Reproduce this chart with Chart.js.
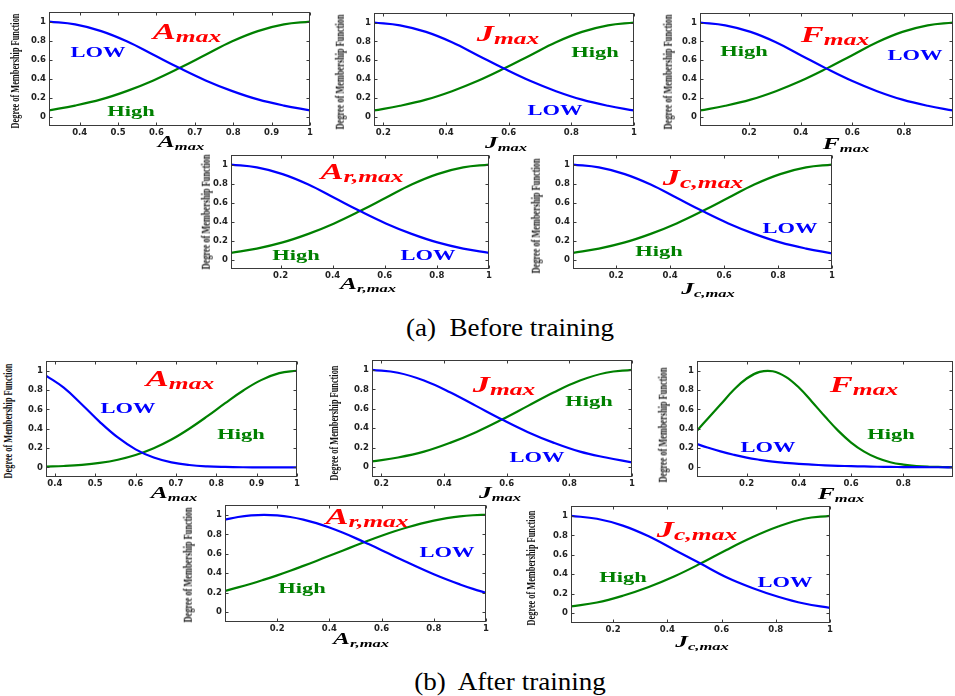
<!DOCTYPE html>
<html><head><meta charset="utf-8">
<script src="https://cdn.jsdelivr.net/npm/chart.js@4.4.1/dist/chart.umd.min.js"></script>
<style>
html,body{margin:0;padding:0;background:#fff;}
#page{position:relative;width:955px;height:696px;overflow:hidden;background:#fff;}
canvas{position:absolute;}
.t{position:absolute;white-space:nowrap;line-height:1;font-family:'Liberation Serif','Times New Roman',serif;transform:translate(-50%,-50%) scaleX(1.5);}
.t sub{line-height:0;}
.ttl{color:#ff0000;font-weight:bold;font-style:italic;font-size:23px;}
.ttl sub{font-size:17px;vertical-align:-3px;}
.low{color:#0000ff;font-weight:bold;font-size:15px;}
.high{color:#008000;font-weight:bold;font-size:15px;}
.xt{color:#000;font-weight:bold;font-style:italic;font-size:17px;}
.xt sub{font-size:11px;vertical-align:-3px;}
.yt{color:#111;font-weight:bold;font-size:8.3px;transform:translate(-50%,-50%) rotate(-90deg) scaleY(1.6);}
.cap{color:#000;font-size:26px;white-space:pre;transform:translate(-50%,-50%) scaleX(1.04);}
</style></head>
<body><div id="page"></div>
<script>
// ---- tick values ----
const yTicks = [0, 0.2, 0.4, 0.6, 0.8, 1];
const xTicksAmax = [0.4, 0.5, 0.6, 0.7, 0.8, 0.9, 1];
const xTicksJmax = [0.2, 0.4, 0.6, 0.8, 1];
const xTicksFmax = [0.2, 0.4, 0.6, 0.8];
const xTicksUnit = [0.2, 0.4, 0.6, 0.8, 1];

// ---- (a) before training ----
const aAmaxX    = [0.32, 0.388, 0.456, 0.524, 0.592, 0.66, 0.728, 0.796, 0.864, 0.932, 1.0];
const aAmaxLow  = [1.0, 0.97, 0.9, 0.79, 0.65, 0.51, 0.38, 0.27, 0.18, 0.115, 0.065];
const aAmaxHigh = [0.065, 0.115, 0.18, 0.27, 0.38, 0.51, 0.65, 0.79, 0.9, 0.97, 1.0];

const aJmaxX    = [0.17, 0.253, 0.336, 0.419, 0.502, 0.585, 0.668, 0.751, 0.834, 0.917, 1.0];
const aJmaxLow  = [1.0, 0.97, 0.9, 0.79, 0.65, 0.51, 0.38, 0.27, 0.18, 0.115, 0.065];
const aJmaxHigh = [0.065, 0.115, 0.18, 0.27, 0.38, 0.51, 0.65, 0.79, 0.9, 0.97, 1.0];

const aFmaxX    = [0.01, 0.108, 0.206, 0.304, 0.402, 0.5, 0.598, 0.696, 0.794, 0.892, 0.99];
const aFmaxLow  = [1.0, 0.97, 0.9, 0.79, 0.65, 0.51, 0.38, 0.27, 0.18, 0.115, 0.065];
const aFmaxHigh = [0.065, 0.115, 0.18, 0.27, 0.38, 0.51, 0.65, 0.79, 0.9, 0.97, 1.0];

const aArX    = [0.01, 0.109, 0.208, 0.307, 0.406, 0.505, 0.604, 0.703, 0.802, 0.901, 1.0];
const aArLow  = [1.0, 0.97, 0.9, 0.79, 0.65, 0.51, 0.38, 0.27, 0.18, 0.115, 0.07];
const aArHigh = [0.07, 0.115, 0.18, 0.27, 0.38, 0.51, 0.65, 0.79, 0.9, 0.97, 1.0];

const aJcX    = [0.04, 0.136, 0.232, 0.328, 0.424, 0.52, 0.616, 0.712, 0.808, 0.904, 1.0];
const aJcLow  = [1.0, 0.97, 0.9, 0.79, 0.65, 0.51, 0.38, 0.27, 0.18, 0.115, 0.065];
const aJcHigh = [0.07, 0.115, 0.18, 0.27, 0.38, 0.51, 0.65, 0.79, 0.9, 0.97, 1.0];

// ---- (b) after training ----
const bAmaxX    = [0.378, 0.422, 0.467, 0.511, 0.556, 0.6, 0.645, 0.689, 0.733, 0.778, 0.822, 0.867, 0.911, 0.956, 1.0];
const bAmaxLow  = [0.95, 0.825, 0.651, 0.471, 0.309, 0.186, 0.101, 0.051, 0.024, 0.01, 0.004, 0.001, 0, 0, 0];
const bAmaxHigh = [0.007, 0.014, 0.026, 0.046, 0.079, 0.128, 0.198, 0.288, 0.4, 0.53, 0.665, 0.796, 0.903, 0.975, 1.0];

const bJmaxX    = [0.17, 0.253, 0.336, 0.419, 0.502, 0.585, 0.668, 0.751, 0.834, 0.917, 1.0];
const bJmaxLow  = [1.0, 0.97, 0.89, 0.77, 0.63, 0.49, 0.36, 0.25, 0.16, 0.1, 0.05];
const bJmaxHigh = [0.06, 0.1, 0.16, 0.25, 0.36, 0.49, 0.63, 0.77, 0.89, 0.97, 1.0];

const bFmaxX    = [0.01, 0.05, 0.1, 0.15, 0.2, 0.25, 0.3, 0.35, 0.4, 0.45, 0.5, 0.55, 0.6, 0.65, 0.7, 0.75, 0.8, 0.85, 0.9, 0.95, 0.99];
const bFmaxLow  = [0.24, 0.205, 0.165, 0.13, 0.1, 0.078, 0.06, 0.047, 0.036, 0.028, 0.021, 0.016, 0.012, 0.009, 0.006, 0.004, 0.003, 0.002, 0.001, 0.001, 0];
const bFmaxHigh = [0.38, 0.5, 0.65, 0.8, 0.92, 0.988, 0.995, 0.937, 0.826, 0.68, 0.526, 0.38, 0.257, 0.163, 0.096, 0.053, 0.028, 0.013, 0.006, 0.003, 0.001];

const bArX    = [0, 0.05, 0.1, 0.15, 0.2, 0.25, 0.3, 0.35, 0.4, 0.45, 0.5, 0.55, 0.6, 0.65, 0.7, 0.75, 0.8, 0.85, 0.9, 0.95, 1.0];
const bArLow  = [0.951, 0.978, 0.994, 1.0, 0.994, 0.978, 0.951, 0.915, 0.87, 0.818, 0.761, 0.7, 0.637, 0.573, 0.51, 0.449, 0.39, 0.336, 0.286, 0.24, 0.2];
const bArHigh = [0.22, 0.255, 0.293, 0.335, 0.379, 0.426, 0.476, 0.527, 0.58, 0.632, 0.685, 0.736, 0.785, 0.831, 0.873, 0.91, 0.941, 0.966, 0.985, 0.996, 1.0];

const bJcX    = [0.045, 0.1405, 0.236, 0.3315, 0.427, 0.5225, 0.618, 0.7135, 0.809, 0.9045, 1.0];
const bJcLow  = [1.0, 0.97, 0.9, 0.79, 0.65, 0.51, 0.37, 0.26, 0.17, 0.1, 0.055];
const bJcHigh = [0.07, 0.11, 0.18, 0.27, 0.38, 0.51, 0.65, 0.78, 0.89, 0.97, 1.0];

// ---- layout (page pixels) ----
const panels = [
  {L:49, T:10, R:310, B:126, xmin:0.32, xmax:1, xt:xTicksAmax, xs:aAmaxX, low:aAmaxLow, high:aAmaxHigh,
   title:'A<sub>max</sub>', tp:[187,31], lp:[98,52], hp:[131,111], xtitle:'A<sub>max</sub>', xp:[181,141], yp:[16,71]},
  {L:374, T:11, R:634, B:126, xmin:0.17, xmax:1, xt:xTicksJmax, xs:aJmaxX, low:aJmaxLow, high:aJmaxHigh,
   title:'J<sub>max</sub>', tp:[508,33], lp:[555,110], hp:[595,52], xtitle:'J<sub>max</sub>', xp:[506,142], yp:[341,72]},
  {L:700, T:11, R:953, B:126, xmin:0.01, xmax:0.99, xt:xTicksFmax, xs:aFmaxX, low:aFmaxLow, high:aFmaxHigh,
   title:'F<sub>max</sub>', tp:[835,34], lp:[915,55], hp:[744,51], xtitle:'F<sub>max</sub>', xp:[846,143], yp:[669,72]},
  {L:231, T:153, R:489, B:269, xmin:0.01, xmax:1, xt:xTicksUnit, xs:aArX, low:aArLow, high:aArHigh,
   title:'A<sub>r,max</sub>', tp:[362,171], lp:[428,255], hp:[296,255], xtitle:'A<sub>r,max</sub>', xp:[368,283], yp:[207,212]},
  {L:573, T:153, R:832, B:269, xmin:0.04, xmax:1, xt:xTicksUnit, xs:aJcX, low:aJcLow, high:aJcHigh,
   title:'J<sub>c,max</sub>', tp:[703,177], lp:[790,228], hp:[659,251], xtitle:'J<sub>c,max</sub>', xp:[708,288], yp:[537,216]},
  {L:46, T:359, R:297, B:477, xmin:0.378, xmax:1, xt:xTicksAmax, xs:bAmaxX, low:bAmaxLow, high:bAmaxHigh,
   title:'A<sub>max</sub>', tp:[180,378], lp:[128,408], hp:[241,434], xtitle:'A<sub>max</sub>', xp:[174,492], yp:[9,421]},
  {L:372, T:358, R:632, B:477, xmin:0.17, xmax:1, xt:xTicksJmax, xs:bJmaxX, low:bJmaxLow, high:bJmaxHigh,
   title:'J<sub>max</sub>', tp:[504,384], lp:[537,457], hp:[589,401], xtitle:'J<sub>max</sub>', xp:[500,492], yp:[335,423]},
  {L:697, T:359, R:953, B:477, xmin:0.01, xmax:0.99, xt:xTicksFmax, xs:bFmaxX, low:bFmaxLow, high:bFmaxHigh,
   title:'F<sub>max</sub>', tp:[864,384], lp:[768,447], hp:[891,434], xtitle:'F<sub>max</sub>', xp:[841,493], yp:[664,425]},
  {L:225, T:503, R:486, B:622, xmin:0, xmax:1, xt:xTicksUnit, xs:bArX, low:bArLow, high:bArHigh,
   title:'A<sub>r,max</sub>', tp:[367,516], lp:[447,552], hp:[302,588], xtitle:'A<sub>r,max</sub>', xp:[361,638], yp:[189,565]},
  {L:571, T:504, R:830, B:623, xmin:0.045, xmax:1, xt:xTicksUnit, xs:bJcX, low:bJcLow, high:bJcHigh,
   title:'J<sub>c,max</sub>', tp:[697,529], lp:[785,582], hp:[623,577], xtitle:'J<sub>c,max</sub>', xp:[702,641], yp:[532,568]}
];

const page = document.getElementById('page');
function addText(cls, html, pos){
  const d = document.createElement('div');
  d.className = 't ' + cls;
  d.innerHTML = html;
  d.style.left = pos[0] + 'px';
  d.style.top = pos[1] + 'px';
  page.appendChild(d);
}
function fmt(v){ return String(Math.round(v * 100) / 100); }

const framePlugin = {
  id: 'frame',
  afterDatasetsDraw(chart){
    const {ctx, chartArea: a, scales: {x, y}} = chart;
    ctx.save();
    ctx.strokeStyle = '#3a3a3a';
    ctx.lineWidth = 1;
    const l = Math.round(a.left) + 0.5, r = Math.round(a.right) - 0.5;
    const t = Math.round(a.top) + 0.5, b = Math.round(a.bottom) - 0.5;
    ctx.strokeRect(l, t, r - l, b - t);
    ctx.beginPath();
    x.ticks.forEach(tk => {
      const px = Math.round(x.getPixelForValue(tk.value)) + 0.5;
      ctx.moveTo(px, b); ctx.lineTo(px, b - 3);
      ctx.moveTo(px, t); ctx.lineTo(px, t + 3);
    });
    y.ticks.forEach(tk => {
      const py = Math.round(y.getPixelForValue(tk.value)) + 0.5;
      ctx.moveTo(l, py); ctx.lineTo(l + 3, py);
      ctx.moveTo(r, py); ctx.lineTo(r - 3, py);
    });
    ctx.stroke();
    ctx.restore();
  }
};

const tickFont = {family: "'DejaVu Sans', sans-serif", size: 8.5, weight: 'bold'};
const YW = 30, XH = 14, PT = 6, PR = 6;

panels.forEach(p => {
  const c = document.createElement('canvas');
  const w = p.R - p.L + YW + PR, h = p.B - p.T + PT + XH;
  c.width = w; c.height = h;
  c.style.left = (p.L - YW) + 'px';
  c.style.top = (p.T - PT) + 'px';
  c.style.width = w + 'px'; c.style.height = h + 'px';
  page.appendChild(c);
  new Chart(c, {
    type: 'line',
    data: {
      datasets: [
        {label: 'LOW', data: p.xs.map((v, i) => ({x: v, y: p.low[i]})), borderColor: '#0000ff', borderWidth: 2.2,
         pointRadius: 0, tension: 0.4, fill: false},
        {label: 'High', data: p.xs.map((v, i) => ({x: v, y: p.high[i]})), borderColor: '#008000', borderWidth: 2.2,
         pointRadius: 0, tension: 0.4, fill: false}
      ]
    },
    options: {
      responsive: false, animation: false, devicePixelRatio: 1,
      layout: {padding: {left: 0, top: PT, right: PR, bottom: 0}},
      plugins: {legend: {display: false}, tooltip: {enabled: false}},
      scales: {
        x: {type: 'linear', min: p.xmin, max: p.xmax,
            afterBuildTicks: s => { s.ticks = p.xt.map(v => ({value: v})); },
            afterFit: s => { s.height = XH; },
            ticks: {callback: v => fmt(v), font: tickFont, color: '#222', padding: 2, maxRotation: 0, autoSkip: false},
            grid: {display: false, drawTicks: false}, border: {display: false}},
        y: {type: 'linear', min: -0.1, max: 1.1,
            afterBuildTicks: s => { s.ticks = yTicks.map(v => ({value: v})); },
            afterFit: s => { s.width = YW; },
            ticks: {callback: v => fmt(v), font: tickFont, color: '#222', padding: 3, autoSkip: false},
            grid: {display: false, drawTicks: false}, border: {display: false}}
      }
    },
    plugins: [framePlugin]
  });
  addText('ttl', p.title, p.tp);
  addText('low', 'LOW', p.lp);
  addText('high', 'High', p.hp);
  addText('xt', p.xtitle, p.xp);
  addText('yt', 'Degree of Membership Function', p.yp);
});

addText('cap', '(a)  Before training', [510, 328]);
addText('cap', '(b)  After training', [510, 682]);
</script>
</body></html>
